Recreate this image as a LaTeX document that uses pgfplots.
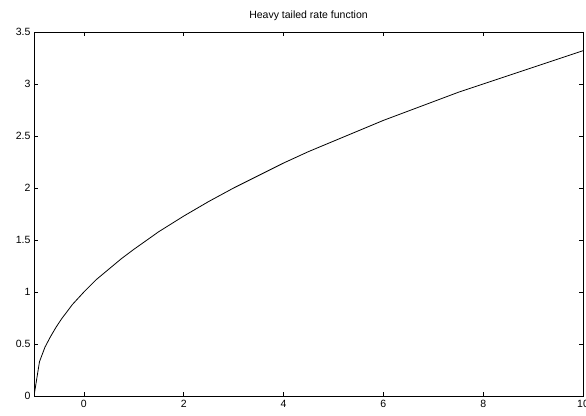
\documentclass[border=0pt]{standalone}
\usepackage{fontspec}
\setmainfont{Liberation Sans}
\usepackage{pgfplots}
\pgfplotsset{compat=1.18}

\begin{document}
\begin{tikzpicture}[x=1pt,y=1pt]
\begin{axis}[
  scale only axis,
  width=549pt, height=364pt,
  xmin=-1, xmax=10, ymin=0, ymax=3.5,
  xtick={0,2,4,6,8,10},
  ytick={0,0.5,...,3.5},
  tick align=inside,
  major tick length=4pt,
  tick style={black, line width=0.6pt},
  axis line style={line width=0.8pt},
  /pgf/number format/assume math mode=true,
  yticklabel style={/pgf/number format/fixed, /pgf/number format/precision=1},
  ticklabel style={font=\fontsize{10.5}{12}\selectfont},
  xticklabel style={yshift=-1pt},
  title={Heavy tailed rate function},
  title style={font=\fontsize{10.5}{12}\selectfont, yshift=2pt},
]
\addplot[black, line width=0.8pt] coordinates {
  (-1,0) (-0.89,0.33) (-0.78,0.47) (-0.67,0.57) (-0.56,0.66) (-0.45,0.74)
  (-0.34,0.81) (-0.23,0.88) (0,1) (0.25,1.12) (0.5,1.22) (0.75,1.32)
  (1,1.41) (1.5,1.58) (2,1.73) (2.5,1.87) (3,2) (3.5,2.12) (4,2.24)
  (4.5,2.35) (5,2.45) (5.5,2.55) (6,2.65) (6.5,2.74) (7,2.83) (7.5,2.92)
  (8,3) (8.5,3.08) (9,3.16) (9.5,3.24) (10,3.32)
};
\end{axis}
\pgfresetboundingbox
\path ([xshift=-34pt,yshift=-19pt]current axis.south west) rectangle ([xshift=3pt,yshift=32pt]current axis.north east);
\end{tikzpicture}
\end{document}
